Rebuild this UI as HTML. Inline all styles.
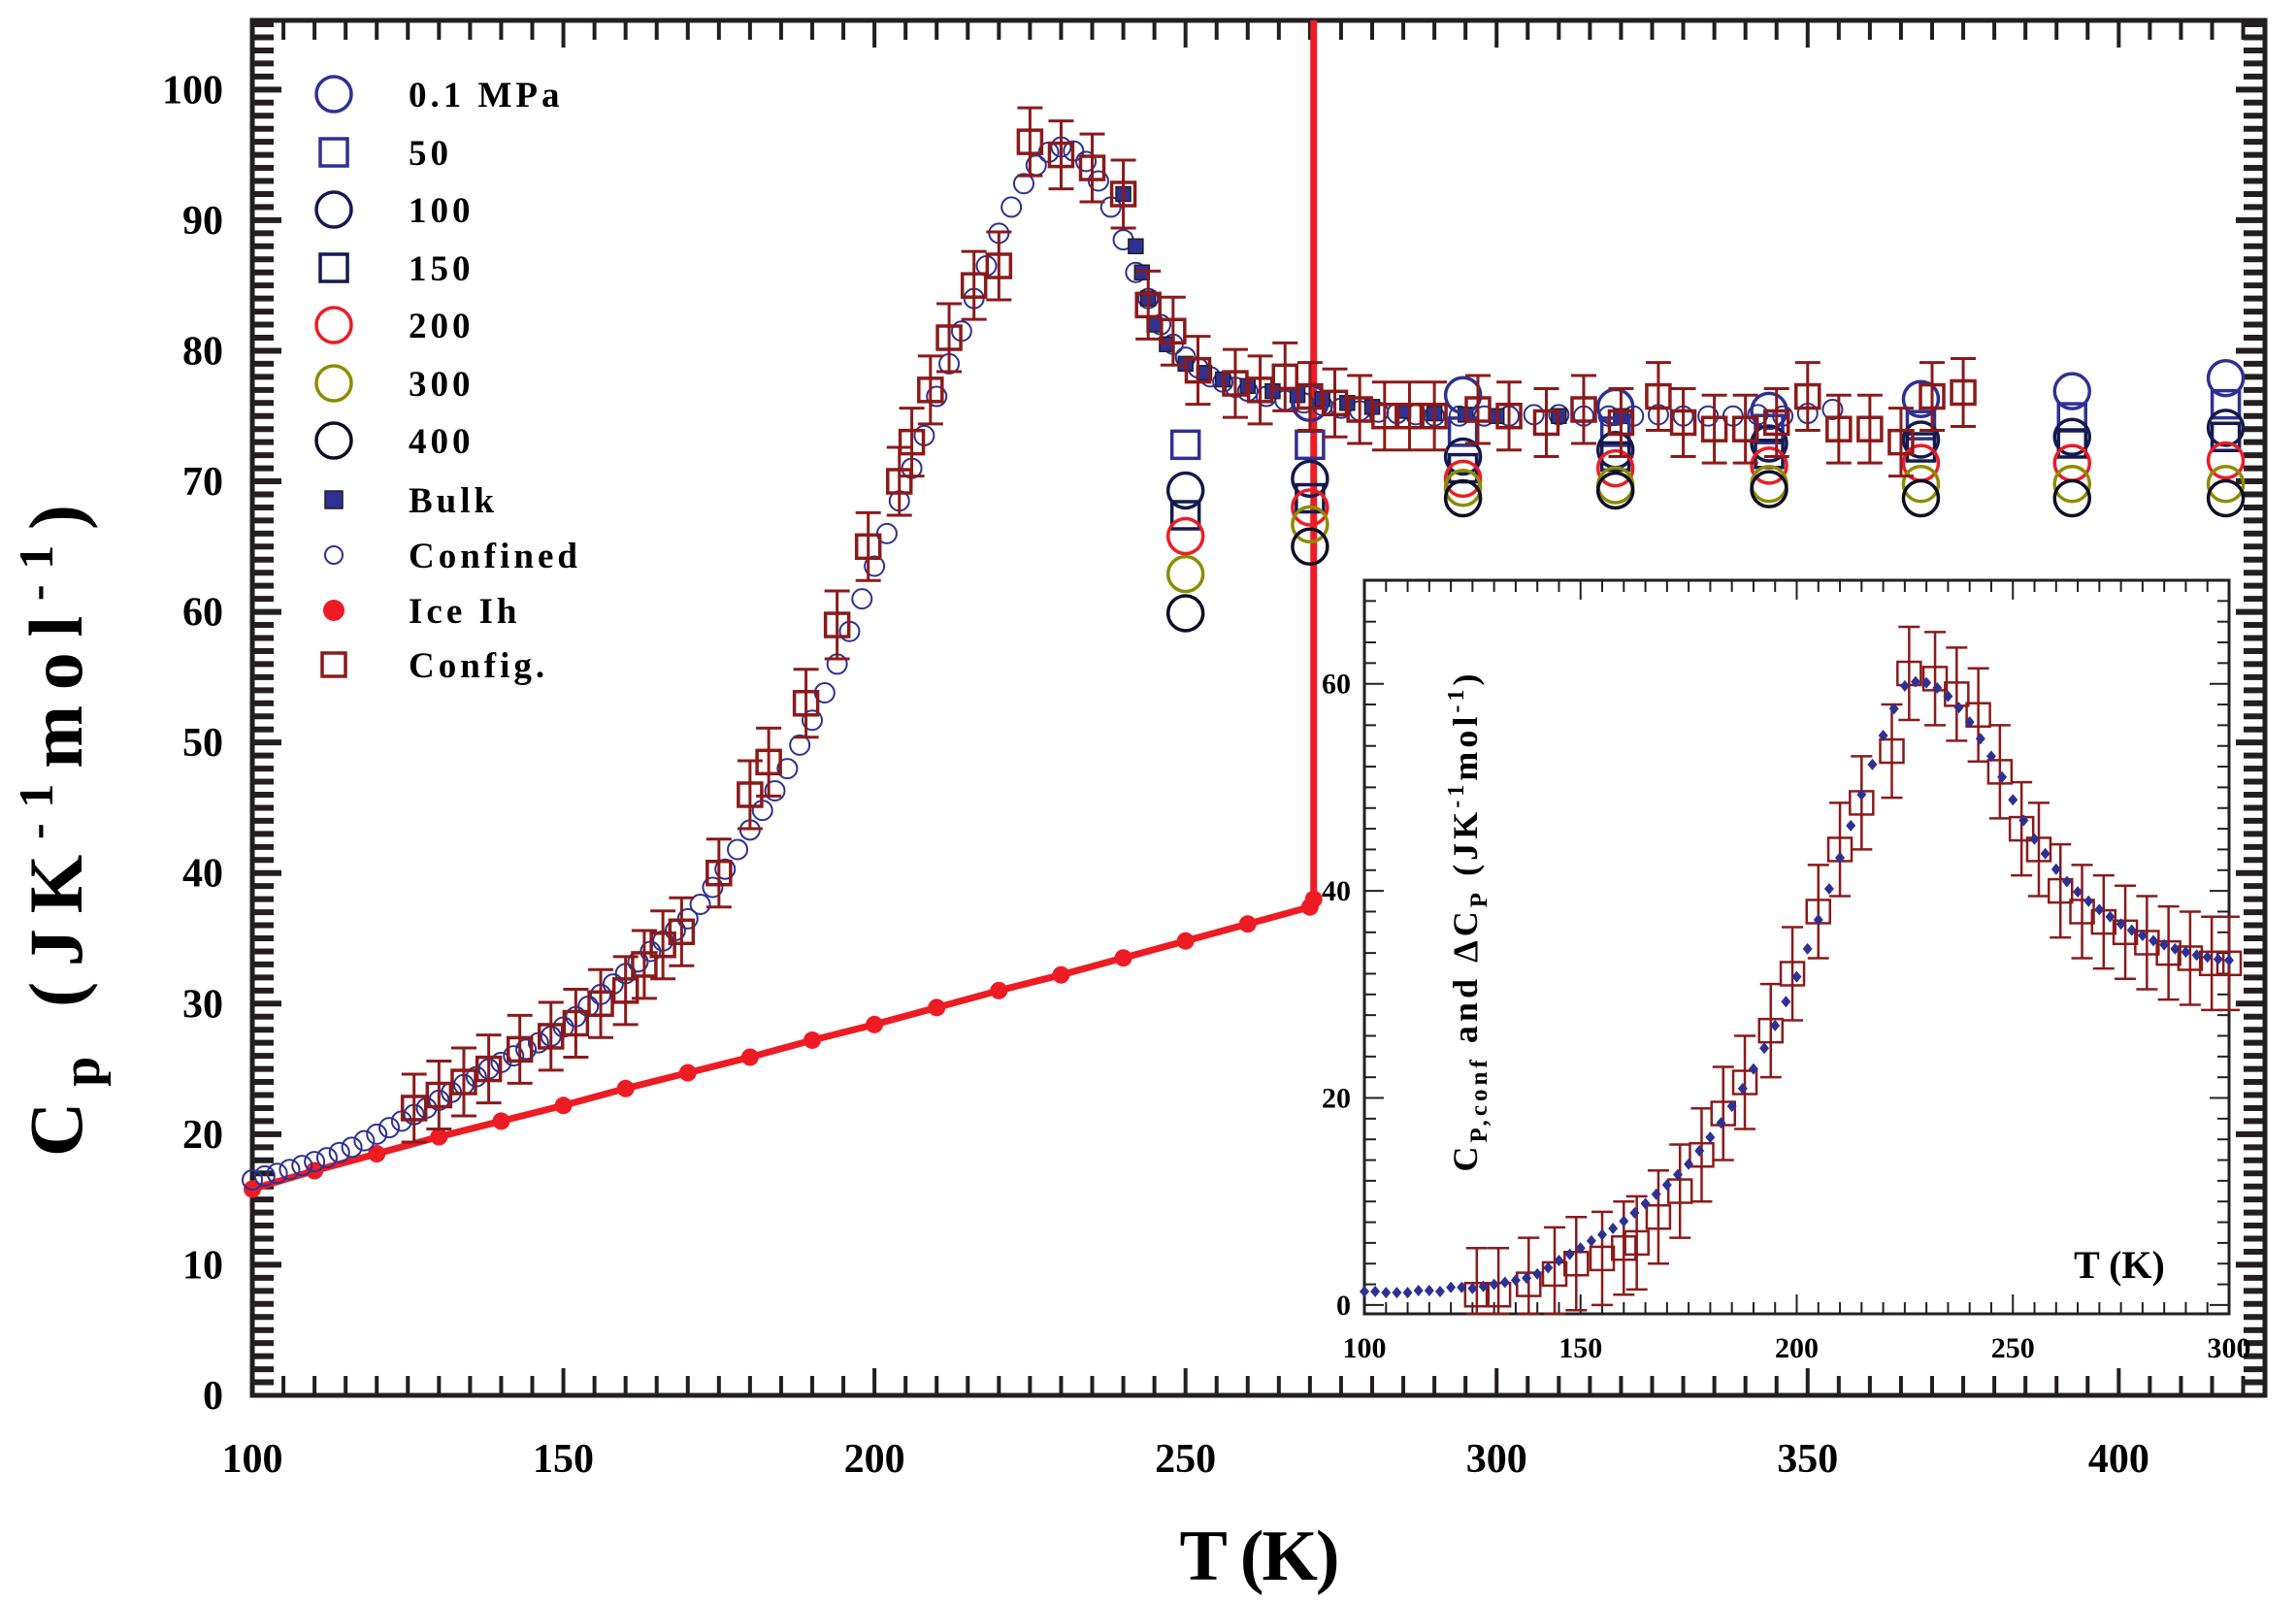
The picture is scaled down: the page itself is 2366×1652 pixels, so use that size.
<!DOCTYPE html>
<html><head><meta charset="utf-8"><style>
html,body{margin:0;padding:0;background:#fff;}
svg{display:block;font-family:"Liberation Serif",serif;font-weight:bold;}
</style></head><body>
<svg id="chart" width="2366" height="1652" viewBox="0 0 2366 1652" xmlns="http://www.w3.org/2000/svg">
<g id="main"></g>
<g id="inset"></g>
<text x="1298" y="1628" font-size="74" text-anchor="middle" textLength="165" lengthAdjust="spacing">T (K)</text>
<text transform="translate(84,856) rotate(-90)" font-size="78" text-anchor="middle" textLength="672" lengthAdjust="spacing">C<tspan font-size="56" dy="18">p</tspan><tspan dy="-18"> (JK</tspan><tspan font-size="50" dy="-30">-1</tspan><tspan dy="30">mol</tspan><tspan font-size="50" dy="-30">-1</tspan><tspan dy="30">)</tspan></text>
<text transform="translate(1522,951) rotate(-90)" font-size="36" text-anchor="middle" textLength="513" lengthAdjust="spacing">C<tspan font-size="25" dy="10">P,conf</tspan><tspan dy="-10"> and ΔC</tspan><tspan font-size="25" dy="10">P</tspan><tspan dy="-10"> (JK</tspan><tspan font-size="24" dy="-14">-1</tspan><tspan dy="14">mol</tspan><tspan font-size="24" dy="-14">-1</tspan><tspan dy="14">)</tspan></text>
<text x="2184" y="1317" font-size="40" text-anchor="middle">T (K)</text>
</svg>
<script>
// ---- main data ----
const iceT = [100,110,120,130,140,150,160,170,180,190,200,210,220,230,240,250,260,270];
const iceCp = [15.8,17.2,18.5,19.8,21,22.2,23.5,24.7,25.9,27.2,28.4,29.7,31,32.2,33.5,34.8,36.1,37.4];
const confT = [100,102,104,106,108,110,112,114,116,118,120,122,124,126,128,130,132,134,136,138,140,142,144,146,148,150,152,154,156,158,160,162,164,166,168,170,172,174,176,178,180,182,184,186,188,190,192,194,196,198,200,202,204,206,208,210,212,214,216,218,220,222,224,226,228,230,232,234,236,238,240,242,244,246,248,250,252,254,256,258,260,263,266,269,272,275,278,281,284,287,290,294,298,302,306,310,314,318,322,326,330,334,338,342,346,350,354];
const confCp = [16.5,16.8,17,17.3,17.6,17.9,18.2,18.6,19,19.5,20,20.5,21,21.5,22,22.6,23.2,23.8,24.4,25,25.5,26,26.5,27,27.5,28.2,29,29.8,30.7,31.5,32.3,33.2,34,34.8,35.6,36.5,37.6,38.9,40.3,41.8,43.3,44.8,46.3,48,49.8,51.7,53.8,56,58.5,61,63.5,66,68.5,71,73.5,76.5,79,81.5,84,86.5,89,91,92.8,94.2,95.2,95.6,95.3,94.5,93,91,88.5,86,84,82,80.5,79.5,78.7,78,77.6,77.2,76.9,76.5,76.2,76,75.8,75.6,75.4,75.3,75.2,75.1,75,75,75,75,75.1,75.1,75,75,75,75.1,75,75,75,75.1,75,75.2,75.5];
const bulkT = [240,242,243,244,245,247,250,253,256,260,264,268,272,276,280,285,290,295,300,310,320];
const bulkCp = [92,88,86,84,82,80.5,79,78.3,77.8,77.3,76.9,76.6,76.3,76,75.7,75.4,75.2,75.1,75,75,75];
const cfgT = [126,130,134,138,143,148,152,156,160,163,166,169,175,180,183,189,194,199,204,206,209,212,216,220,225,230,235,240,244,248,252,258,262,266,270,274,278,282,286,290,297,302,308,314,320,326,330,335,340,345,350,355,360,365,370,375];
const cfgCp = [22,23,24,25,26.5,27.5,28.5,30,31,33,34.5,35.5,40,46,48.5,53,59,65,70,73,77,81,85,86.5,96,95,94,92,83.5,81.5,78.5,77.5,77,78,76.5,76,75.5,75,75,75,75.5,75,74.5,75.5,74.5,76.5,74.5,74,74,74.5,76.5,74,74,73,76.5,76.8];
const cfgErr = 2.6;
const colT = [250,270,294.6,319.1,343.8,368.2,392.5,417.2];
const p01 = [null,76,76.6,75.7,75.4,76.3,76.9,77.9];
const p50 = [72.8,72.8,73.8,73.8,74,74.3,74.9,75.9];
const p100 = [69.3,70.2,71.9,72.4,72.9,73.2,73.4,74.1];
const p150 = [67.4,68.7,71,71.9,72.1,72.6,72.9,73.4];
const p200 = [65.8,68,70.2,71,71.2,71.4,71.4,71.6];
const p300 = [62.9,66.7,69.5,69.7,69.8,69.8,69.8,69.8];
const p400 = [59.9,65,68.7,69.3,69.4,68.7,68.7,68.7];
const xTicks = [100,150,200,250,300,350,400];
const yTicks = [0,10,20,30,40,50,60,70,80,90,100];
const meltT = 270;
const meltCp = 38;
// ---- inset data ----
const inT = [100,102.5,105,107.5,110,112.5,115,117.5,120,122.5,125,127.5,130,132.5,135,137.5,140,142.5,145,147.5,150,152.5,155,157.5,160,162.5,165,167.5,170,172.5,175,177.5,180,182.5,185,187.5,190,192.5,195,197.5,200,202.5,205,207.5,210,212.5,215,217.5,220,222.5,225,227.5,230,232.5,235,237.5,240,242.5,245,247.5,250,252.5,255,257.5,260,262.5,265,267.5,270,272.5,275,277.5,280,282.5,285,287.5,290,292.5,295,297.5,300];
const inCp = [1.3,1.3,1.2,1.2,1.2,1.4,1.4,1.3,1.7,1.7,1.6,1.8,2,2.2,2.4,2.6,3,3.6,4.3,4.9,5.5,6.2,6.8,7.4,8.1,8.9,9.8,10.7,11.6,12.6,13.6,14.9,16.2,17.6,19.2,20.9,22.8,24.8,27,29.3,31.7,34.4,37.2,40.2,43.2,46.3,49.3,52.2,55,57.6,59.8,60.2,60.1,59.6,58.8,57.7,56.3,54.7,53,51,48.8,46.8,45,43.6,42.1,40.9,39.9,39,38.2,37.5,36.8,36.2,35.7,35.2,34.8,34.4,34.1,33.8,33.6,33.4,33.3];
const inCfgT = [126,131,138,144,149,155,160,163,168,173,178,183,188,194,199,205,210,215,222,226,232,237,242,247,252,256,261,266,271,276,281,286,291,296,300];
const inCfgCp = [1,1,2,3,4,4.5,5.5,6,8.5,11,14.5,18.5,21.5,26.5,32,38,44,48.5,53.5,61,60.5,59,57,51.5,46,44,40,38,37,36,35,34,33.5,33,33];
const inErr = 4.5;
const inXTicks = [100,150,200,250,300];
const inYTicks = [0,20,40,60];

const NS="http://www.w3.org/2000/svg";
function mk(parent,tag,attrs){const e=document.createElementNS(NS,tag);for(const k in attrs)e.setAttribute(k,attrs[k]);parent.appendChild(e);return e;}
const X=t=>260+(t-100)*(2334-260)/323.5;
const Y=v=>1438-(v)*(1438-21)/105.3;
const IX=t=>1406+(t-100)*(2297-1406)/200;
const IY=v=>1354-(v+0.85)*(1354-598)/70.85;
const main=document.getElementById('main'), inset=document.getElementById('inset');

let fr=mk(main,'rect',{x:260,y:21,width:2074,height:1417,fill:'none',stroke:'#231f20','stroke-width':5});


let tg=mk(main,'g',{stroke:'#231f20','stroke-width':4});


for(let t=105;t<=420;t+=5){const maj=t%50==0;const L=maj?28:20;
 mk(tg,'line',{x1:X(t),x2:X(t),y1:1438,y2:1438-L});mk(tg,'line',{x1:X(t),x2:X(t),y1:21,y2:21+L});}
for(let v=1;v<=105;v++){const L=v%10==0?30:22;
 mk(tg,'line',{x1:260,x2:260+L,y1:Y(v),y2:Y(v),'stroke-width':6});mk(tg,'line',{x1:2334,x2:2334-L,y1:Y(v),y2:Y(v),'stroke-width':6});}
xTicks.forEach(t=>{const e=mk(main,'text',{x:X(t),y:1517,'font-size':42,'text-anchor':'middle'});e.textContent=t;
 
 });
yTicks.forEach(v=>{const e=mk(main,'text',{x:230,y:Y(v)+14,'font-size':42,'text-anchor':'end'});e.textContent=v;
 
 });

function circ(g,x,y,r,c,w,fill){return mk(g,'circle',{cx:x,cy:y,r:r,fill:fill||'none',stroke:c,'stroke-width':w});}
function sq(g,x,y,s,c,w,fill){return mk(g,'rect',{x:x-s/2,y:y-s/2,width:s,height:s,fill:fill||'none',stroke:c,'stroke-width':w});}

let ig=mk(main,'g',{});


mk(ig,'polyline',{points:iceT.map((t,i)=>X(t)+','+Y(iceCp[i])).join(' ')+' '+X(meltT+0.6)+','+Y(meltCp),fill:'none',stroke:'#ed1c24','stroke-width':7});
iceT.forEach((t,i)=>mk(ig,'circle',{cx:X(t),cy:Y(iceCp[i]),r:9,fill:'#ed1c24'}));
mk(ig,'circle',{cx:X(meltT+0.6),cy:Y(meltCp),r:9,fill:'#ed1c24'});
let ml=mk(main,'line',{x1:X(meltT+0.6),x2:X(meltT+0.6),y1:21,y2:Y(meltCp),stroke:'#ed1c24','stroke-width':7});



let cg=mk(main,'g',{});


confT.forEach((t,i)=>circ(cg,X(t),Y(confCp[i]),10,'#2e3192',2));
let bg=mk(main,'g',{});


bulkT.forEach((t,i)=>sq(bg,X(t),Y(bulkCp[i]),15,'#231f20',1.5,'#2e3192'));

const pSeries=[[p01,'c','#2e3192','pressure-0.1mpa'],[p50,'s','#2e3192','pressure-50'],[p100,'c','#141a4e','pressure-100'],[p150,'s','#141a4e','pressure-150'],[p200,'c','#ed1c24','pressure-200'],[p300,'c','#8c8c00','pressure-300'],[p400,'c','#0d0d26','pressure-400']];
pSeries.forEach(([arr,shape,col,name])=>{const g=mk(main,'g',{});
 
 
 arr.forEach((v,i)=>{if(v==null)return;
  if(shape=='c')circ(g,X(colT[i]),Y(v),18,col,3.5);else sq(g,X(colT[i]),Y(v),28,col,3.5);});});

let fg=mk(main,'g',{stroke:'#8b1a1a','stroke-width':3,fill:'none'});


cfgT.forEach((t,i)=>{const x=X(t),y=Y(cfgCp[i]),y1=Y(cfgCp[i]+cfgErr),y2=Y(cfgCp[i]-cfgErr);
 mk(fg,'line',{x1:x,x2:x,y1:y1,y2:y2});mk(fg,'line',{x1:x-13,x2:x+13,y1:y1,y2:y1});mk(fg,'line',{x1:x-13,x2:x+13,y1:y2,y2:y2});
 sq(fg,x,y,24,'#8b1a1a',3.5);});

const legY=[97,157,216,276,335,395,454,515,572,629,685];
const legLab=['0.1 MPa','50','100','150','200','300','400','Bulk','Confined','Ice Ih','Config.'];
let lg=mk(main,'g',{});


legLab.forEach((l,i)=>{const y=legY[i],x=344;
 if(i==0)circ(lg,x,y,18,'#2e3192',3.5);if(i==1)sq(lg,x,y,28,'#2e3192',3.5);if(i==2)circ(lg,x,y,18,'#141a4e',3.5);
 if(i==3)sq(lg,x,y,28,'#141a4e',3.5);if(i==4)circ(lg,x,y,18,'#ed1c24',3.5);if(i==5)circ(lg,x,y,18,'#8c8c00',3.5);
 if(i==6)circ(lg,x,y,18,'#0d0d26',3.5);if(i==7)sq(lg,x,y,18,'#231f20',1.5,'#2e3192');if(i==8)circ(lg,x,y,9,'#2e3192',2);
 if(i==9)mk(lg,'circle',{cx:x,cy:y,r:11,fill:'#ed1c24'});if(i==10)sq(lg,x,y,24,'#8b1a1a',3.5);
 const e=mk(lg,'text',{x:421,y:y+13,'font-size':37,'letter-spacing':4});e.textContent=l;
 
 });

// ---- inset ----
let ib=mk(inset,'rect',{x:1406,y:598,width:891,height:756,fill:'#fff',stroke:'#231f20','stroke-width':3});


let itg=mk(inset,'g',{stroke:'#231f20','stroke-width':2});


for(let t=105;t<300;t+=5){const L=t%50==0?20:12;
 mk(itg,'line',{x1:IX(t),x2:IX(t),y1:1354,y2:1354-L});mk(itg,'line',{x1:IX(t),x2:IX(t),y1:598,y2:598+L});}
for(let v=0;v<=70;v+=2){const L=v%20==0?20:12;
 mk(itg,'line',{x1:1406,x2:1406+L,y1:IY(v),y2:IY(v)});mk(itg,'line',{x1:2297,x2:2297-L,y1:IY(v),y2:IY(v)});}
inXTicks.forEach(t=>{const e=mk(inset,'text',{x:IX(t),y:1399,'font-size':30,'text-anchor':'middle'});e.textContent=t;
 
 });
inYTicks.forEach(v=>{const e=mk(inset,'text',{x:1392,y:IY(v)+10,'font-size':30,'text-anchor':'end'});e.textContent=v;
 
 });
let icf=mk(inset,'g',{stroke:'#8b1a1a','stroke-width':2.5,fill:'none'});


inCfgT.forEach((t,i)=>{const x=IX(t),y=IY(inCfgCp[i]),y1=IY(inCfgCp[i]+inErr),y2=IY(Math.max(inCfgCp[i]-inErr,-0.85));
 mk(icf,'line',{x1:x,x2:x,y1:y1,y2:y2});mk(icf,'line',{x1:x-11,x2:x+11,y1:y1,y2:y1});mk(icf,'line',{x1:x-11,x2:x+11,y1:y2,y2:y2});
 sq(icf,x,y,24,'#8b1a1a',2.5);});
let idg=mk(inset,'g',{fill:'#2e3192'});


inT.forEach((t,i)=>{const x=IX(t),y=IY(inCp[i]);mk(idg,'polygon',{points:`${x},${y-6} ${x+5},${y} ${x},${y+6} ${x-5},${y}`});});
</script>
</body></html>
